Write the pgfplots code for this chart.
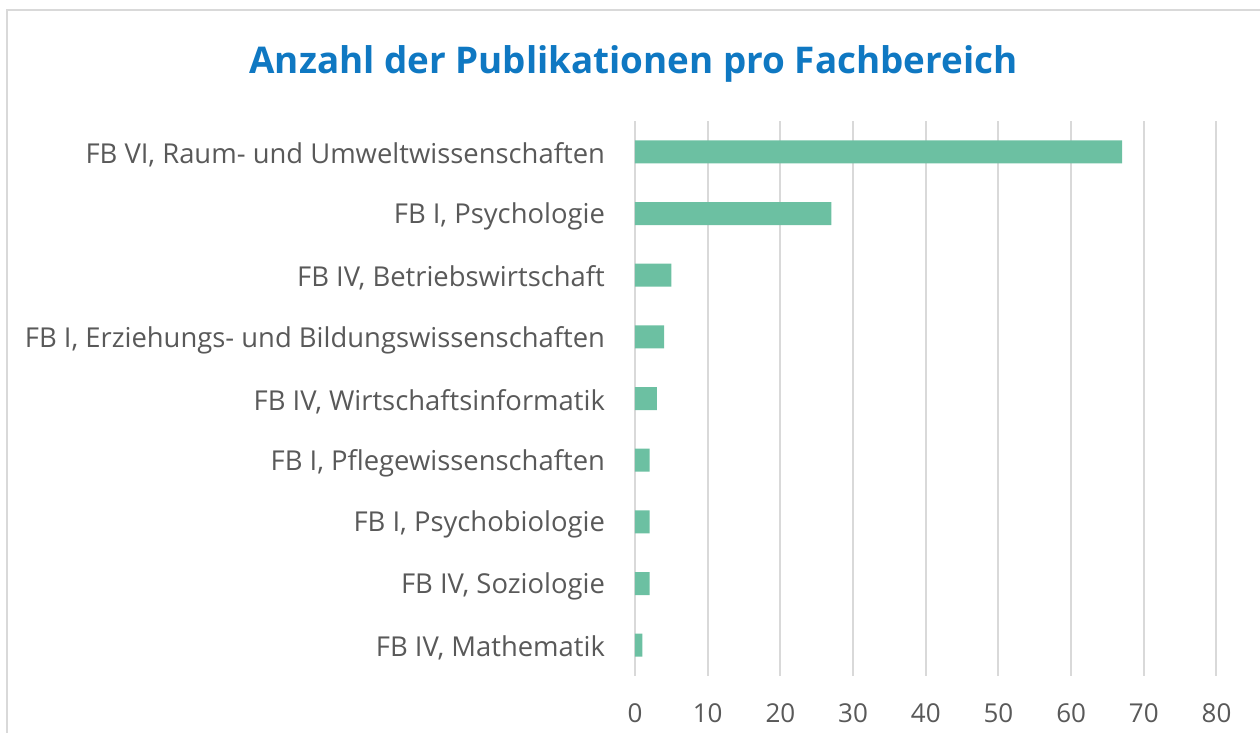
\documentclass[border=0pt]{standalone}
\usepackage{fontspec}
\setmainfont{Open Sans}
\usepackage{pgfplots}
\pgfplotsset{compat=1.18}
\definecolor{barc}{HTML}{6CC0A2}
\definecolor{titlec}{HTML}{0F78C2}
\definecolor{labc}{HTML}{595959}
\definecolor{gridc}{HTML}{D9D9D9}
\begin{document}
\begin{tikzpicture}
\path[use as bounding box] (0,0) rectangle (630pt,366.5pt);
\draw[gridc, line width=1.2pt] (3.5pt,-2pt) -- (3.5pt,361.5pt) -- (632pt,361.5pt);
\node[text=titlec, font=\fontsize{18.4}{21}\selectfont\bfseries] at (316.75pt,334.5pt) {Anzahl der Publikationen pro Fachbereich};
\begin{axis}[
  at={(317.5pt,28.5pt)}, anchor=south west,
  scale only axis, width=290.75pt, height=277.5pt,
  xmin=0, xmax=80, ymin=-0.5, ymax=8.5, y dir=reverse,
  xtick={0,10,...,80}, ytick={0,...,8},
  yticklabels={{FB VI, Raum- und Umweltwissenschaften},{FB I, Psychologie},{FB IV, Betriebswirtschaft},{FB I, Erziehungs- und Bildungswissenschaften},{FB IV, Wirtschaftsinformatik},{FB I, Pflegewissenschaften},{FB I, Psychobiologie},{FB IV, Soziologie},{FB IV, Mathematik}},
  axis line style={draw=none},
  major tick length=0pt,
  xmajorgrids, grid style={gridc, line width=1pt},
  tick label style={text=labc},
  yticklabel style={xshift=-11.5pt, yshift=-1.5pt, font=\fontsize{13.7}{16}\selectfont},
  xticklabel style={yshift=-10.5pt, font=\fontsize{13}{15}\selectfont},
  /pgf/number format/assume math mode=true,
  xbar, bar width=11.5pt,
]
\addplot[fill=barc, draw=none] coordinates {(67,0) (27,1) (5,2) (4,3) (3,4) (2,5) (2,6) (2,7) (1,8)};
\end{axis}
\end{tikzpicture}
\end{document}
